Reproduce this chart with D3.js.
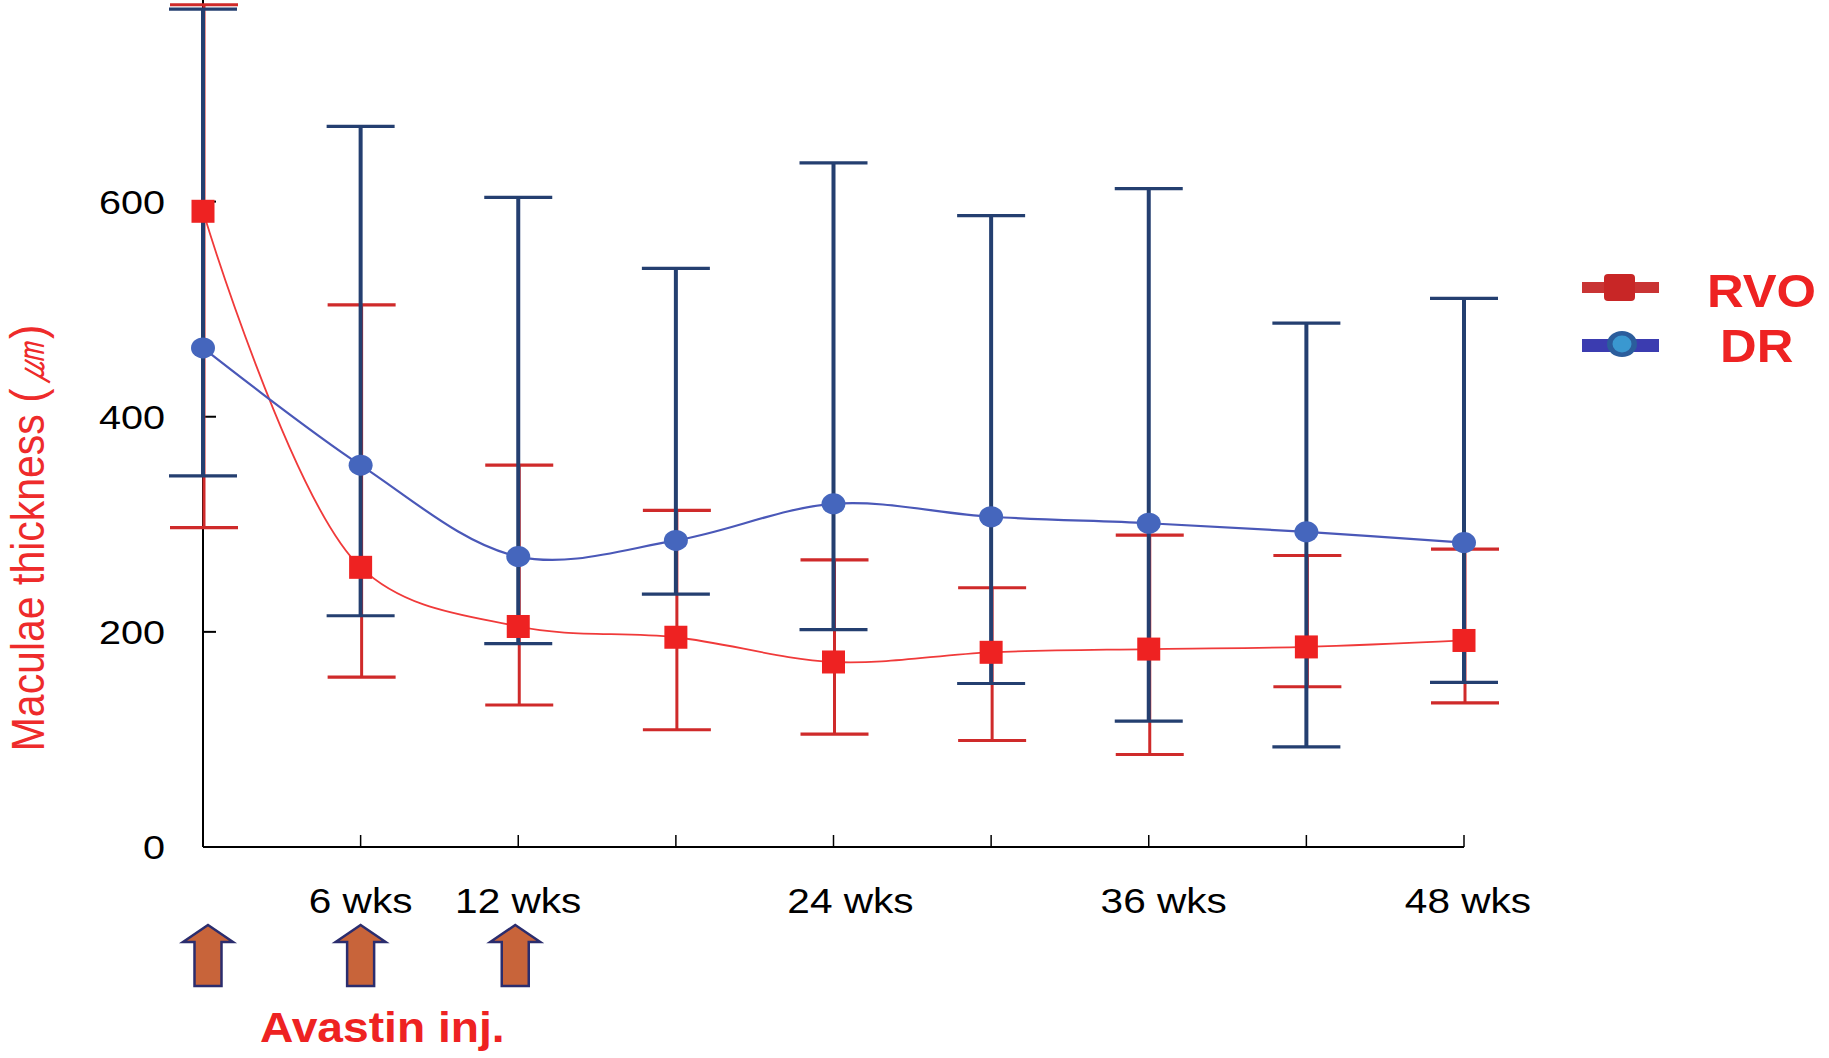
<!DOCTYPE html>
<html>
<head>
<meta charset="utf-8">
<script src="https://cdn.jsdelivr.net/npm/d3@7/dist/d3.min.js"></script>
<style>
  html, body { margin: 0; padding: 0; background: #fff; }
  svg { display: block; font-family: "Liberation Sans", Arial, Helvetica, sans-serif; }
</style>
</head>
<body>
<svg id="chart" width="1829" height="1058"></svg>
<script>
// ---- data ----
const weeks = [0, 6, 12, 18, 24, 30, 36, 42, 48];
const rvoMean  = [591, 260, 205, 195, 172, 181, 184, 186, 192];
const rvoUpper = [783, 504, 355, 313, 267, 241, 290, 271, 277];
const rvoLower = [297, 158, 132, 109, 105, 99, 86, 149, 134];
const drMean   = [464, 355, 270, 285, 319, 307, 301, 293, 283];
const drUpper  = [779, 670, 604, 538, 636, 587, 612, 487, 510];
const drLower  = [345, 215, 189, 235, 202, 152, 117, 93, 153];
const yTicks = [0, 200, 400, 600];
const xLabelWeeks = [6, 12, 24, 36, 48];
const xLabels = ["6 wks", "12 wks", "24 wks", "36 wks", "48 wks"];
const injectionWeeks = [0, 6, 12];
const seriesNames = ["RVO", "DR"];
const yTitleMain = "Maculae thickness ";
const yTitleUnit = "\u339B";
const noteText = "Avastin inj.";

// ---- layout ----
const svg = d3.select("#chart");
const x = d3.scaleLinear().domain([0, 48]).range([203, 1464]);
const y = d3.scaleLinear().domain([0, 600]).range([847, 201.6]);
const xLabelNudge = [0, 0, 17, 15, 4];
const arrowNudge = [5, 0, -3];

// axes
svg.append("line").attr("x1", x(0)).attr("x2", x(0)).attr("y1", y(0)).attr("y2", 0)
  .attr("stroke", "#000").attr("stroke-width", 2);
svg.append("line").attr("x1", x(0)).attr("x2", x(48)).attr("y1", y(0)).attr("y2", y(0))
  .attr("stroke", "#000").attr("stroke-width", 2);
svg.selectAll(".xt").data(weeks.slice(1)).enter().append("line")
  .attr("x1", d => x(d)).attr("x2", d => x(d)).attr("y1", y(0)).attr("y2", y(0) - 12)
  .attr("stroke", "#000").attr("stroke-width", 1.5);
svg.selectAll(".yt").data(yTicks.slice(1)).enter().append("line")
  .attr("x1", x(0)).attr("x2", x(0) + 13).attr("y1", d => y(d)).attr("y2", d => y(d))
  .attr("stroke", "#000").attr("stroke-width", 2);

// y tick labels
svg.selectAll(".yl").data(yTicks).enter().append("text")
  .attr("transform", d => `translate(165,${y(d) + 12}) scale(1.2,1)`)
  .attr("text-anchor", "end").attr("font-size", 33).attr("fill", "#000")
  .text(d => d);

// x labels
svg.selectAll(".xl").data(xLabelWeeks).enter().append("text")
  .attr("transform", (d, i) => `translate(${x(d) + xLabelNudge[i]},913) scale(1.16,1)`)
  .attr("text-anchor", "middle").attr("font-size", 35).attr("fill", "#000")
  .text((d, i) => xLabels[i]);

// y title
const yt = svg.append("text")
  .attr("transform", "translate(44,538) rotate(-90) scale(1,1.12)")
  .attr("text-anchor", "middle").attr("font-size", 41).attr("fill", "#ee2b2b");
yt.append("tspan").text(yTitleMain);
yt.append("tspan").attr("font-size", 43).text("(");
yt.append("tspan").attr("font-style", "italic").attr("dx", 4).text(yTitleUnit);
yt.append("tspan").attr("font-size", 43).attr("dx", 4).text(")");

// error bars
function errorBars(upper, lower, color, width, dx) {
  const g = svg.append("g").attr("stroke", color).attr("stroke-width", width);
  weeks.forEach((w, i) => {
    const cx = x(w) + dx;
    g.append("line").attr("x1", cx).attr("x2", cx).attr("y1", y(upper[i])).attr("y2", y(lower[i]));
    [upper[i], lower[i]].forEach(v => {
      g.append("line").attr("x1", cx - 34).attr("x2", cx + 34).attr("y1", y(v)).attr("y2", y(v))
        .attr("stroke-width", 3.2);
    });
  });
}
errorBars(rvoUpper, rvoLower, "#cf2a2a", 3, 1);
errorBars(drUpper, drLower, "#243f70", 4, 0);

// lines
const lineGen = d3.line().x((d, i) => x(weeks[i])).y(d => y(d)).curve(d3.curveCatmullRom.alpha(0.5));
svg.append("path").attr("d", lineGen(rvoMean)).attr("fill", "none")
  .attr("stroke", "#f03a3a").attr("stroke-width", 1.8);
svg.append("path").attr("d", lineGen(drMean)).attr("fill", "none")
  .attr("stroke", "#4a58b8").attr("stroke-width", 2.2);

// markers
svg.selectAll(".sq").data(rvoMean).enter().append("rect")
  .attr("x", (d, i) => x(weeks[i]) - 11.5).attr("y", d => y(d) - 11.5)
  .attr("width", 23).attr("height", 23).attr("fill", "#ee2222");
svg.selectAll(".ci").data(drMean).enter().append("ellipse")
  .attr("cx", (d, i) => x(weeks[i])).attr("cy", d => y(d))
  .attr("rx", 12).attr("ry", 10.5).attr("fill", "#4566bd");

// legend
const lg = svg.append("g");
lg.append("rect").attr("x", 1582).attr("y", 282).attr("width", 77).attr("height", 11).attr("fill", "#c93434");
lg.append("rect").attr("x", 1604).attr("y", 274).attr("width", 31).attr("height", 27).attr("rx", 4).attr("fill", "#c82626");
lg.append("rect").attr("x", 1582).attr("y", 339).attr("width", 77).attr("height", 13).attr("fill", "#3b3cb0");
lg.append("ellipse").attr("cx", 1622).attr("cy", 344).attr("rx", 15).attr("ry", 13).attr("fill", "#2b5d9c");
lg.append("ellipse").attr("cx", 1622).attr("cy", 344).attr("rx", 9.5).attr("ry", 8.5).attr("fill", "#3a98d0");
lg.selectAll("text").data(seriesNames).enter().append("text")
  .attr("transform", (d, i) => i === 0 ? "translate(1707,307) scale(1.08,1)" : "translate(1720,362) scale(1.08,1)")
  .attr("font-size", 47).attr("font-weight", "bold").attr("fill", "#ee2222")
  .text(d => d);

// injection arrows
const arrowG = svg.append("g");
injectionWeeks.forEach((w, i) => {
  const cx = x(w) + arrowNudge[i];
  const top = 925, neck = 942, bottom = 986, hw = 25, sw = 13.5;
  const pts = [[cx, top], [cx + hw, neck], [cx + sw, neck], [cx + sw, bottom],
               [cx - sw, bottom], [cx - sw, neck], [cx - hw, neck]];
  arrowG.append("path").attr("d", "M" + pts.map(p => p.join(",")).join("L") + "Z")
    .attr("fill", "#c8643a").attr("stroke", "#2b2d6e").attr("stroke-width", 2.5)
    .attr("stroke-linejoin", "miter");
});
svg.append("text").attr("transform", "translate(260,1042) scale(1.1,1)")
  .attr("font-size", 42).attr("font-weight", "bold").attr("fill", "#ee2222")
  .text(noteText);
</script>
</body>
</html>
